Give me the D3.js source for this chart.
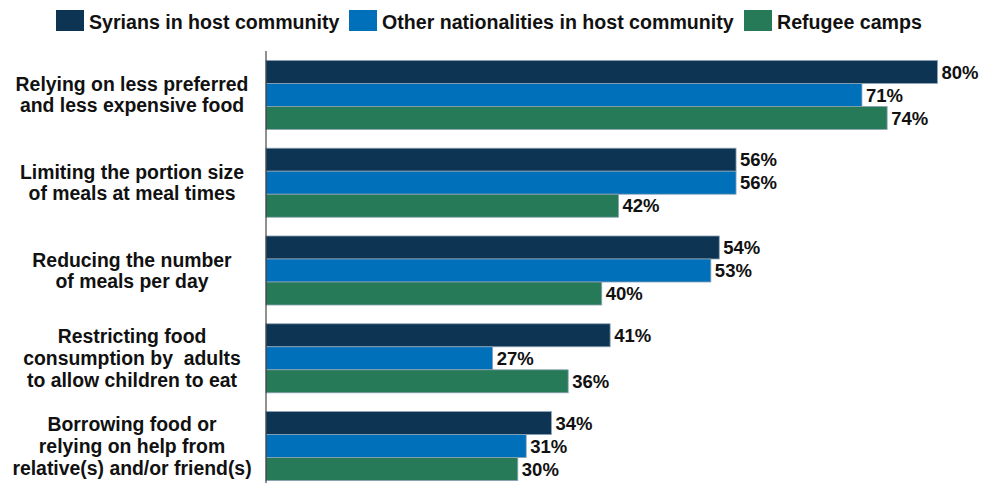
<!DOCTYPE html>
<html>
<head>
<meta charset="utf-8">
<script src="https://cdn.jsdelivr.net/npm/d3@7"></script>
<style>
  html, body { margin: 0; padding: 0; background: #fff; }
  svg { display: block; font-family: "Liberation Sans", Arial, sans-serif; }
</style>
</head>
<body>
<svg id="chart" width="983" height="483"></svg>
<script>
// Food-related coping strategies by population group (% of households)
const categories = [
  ["Relying on less preferred", "and less expensive food"],
  ["Limiting the portion size", "of meals at meal times"],
  ["Reducing the number", "of meals per day"],
  ["Restricting food", "consumption by  adults", "to allow children to eat"],
  ["Borrowing food or", "relying on help from", "relative(s) and/or friend(s)"]
];
const seriesNames = ["Syrians in host community", "Other nationalities in host community", "Refugee camps"];
const syrians = [80, 56, 54, 41, 34];
const otherNationalities = [71, 56, 53, 27, 31];
const refugeeCamps = [74, 42, 40, 36, 30];
const colors = ["#0d3553", "#0070ba", "#267a57"];

const series = [syrians, otherNationalities, refugeeCamps];
const svg = d3.select("#chart");

const axisX = 266;
const x = d3.scaleLinear().domain([0, 80]).range([axisX, 937.5]);
const y = d3.scaleBand()
  .domain(d3.range(categories.length))
  .range([51, 490])
  .paddingInner(0.2137)
  .paddingOuter(0.107);
const ySub = d3.scaleBand()
  .domain(d3.range(series.length))
  .range([0, y.bandwidth()]);

// Legend
const legendX = [56, 349, 744];
const legend = svg.append("g");
seriesNames.forEach((name, i) => {
  legend.append("rect")
    .attr("x", legendX[i]).attr("y", 10)
    .attr("width", 28).attr("height", 21)
    .attr("fill", colors[i]);
  legend.append("text")
    .attr("x", legendX[i] + 33).attr("y", 28.5)
    .attr("font-size", 19.6).attr("font-weight", "bold").attr("fill", "#111")
    .text(name);
});

// Bars
const groups = svg.append("g").selectAll("g")
  .data(categories)
  .join("g")
  .attr("transform", (d, i) => `translate(0,${y(i)})`);

groups.each(function(cat, ci) {
  const g = d3.select(this);
  series.forEach((vals, si) => {
    const v = vals[ci];
    g.append("rect")
      .attr("x", x(0))
      .attr("y", ySub(si))
      .attr("width", x(v) - x(0))
      .attr("height", ySub.bandwidth())
      .attr("fill", colors[si])
      .attr("stroke", "#8ea3b6")
      .attr("stroke-width", 0.8);
    g.append("text")
      .attr("x", x(v) + 4)
      .attr("y", ySub(si) + ySub.bandwidth() / 2)
      .attr("dy", "0.36em")
      .attr("font-size", 18.5).attr("font-weight", "bold").attr("fill", "#111")
      .text(v + "%");
  });

  // Category label, centered vertically on the group
  const lh = cat.length === 3 ? 22 : 21;
  const t = g.append("text")
    .attr("x", 132)
    .attr("text-anchor", "middle")
    .attr("font-size", 19.4).attr("font-weight", "bold").attr("fill", "#111")
    .style("white-space", "pre");
  cat.forEach((line, li) => {
    t.append("tspan")
      .attr("x", 132)
      .attr("y", y.bandwidth() / 2 + (li - (cat.length - 1) / 2) * lh)
      .attr("dy", "0.36em")
      .text(line);
  });
});

// Vertical category axis line
svg.append("line")
  .attr("x1", axisX).attr("x2", axisX)
  .attr("y1", 51).attr("y2", 483)
  .attr("stroke", "#222").attr("stroke-width", 1);
</script>
</body>
</html>
